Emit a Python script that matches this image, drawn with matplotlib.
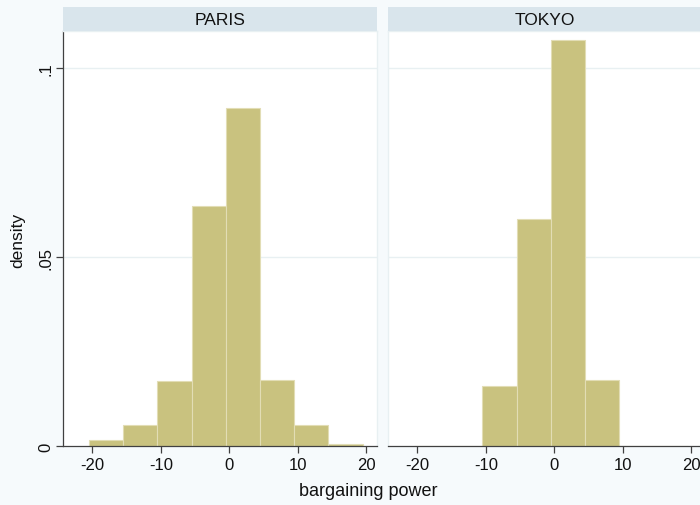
import matplotlib.pyplot as plt
import numpy as np

plt.rcParams['font.family'] = ['Liberation Sans', 'DejaVu Sans']

# histogram data (density), bins of width 5
bin_edges = [-20.5, -15.5, -10.5, -5.5, -0.5, 4.5, 9.5, 14.5, 19.5]
paris_density = [0.0016, 0.0056, 0.0173, 0.0634, 0.0893, 0.0175, 0.0056, 0.0006]
tokyo_density = [0.0, 0.0, 0.0158, 0.0600, 0.1074, 0.0175, 0.0, 0.0]
panels = ['PARIS', 'TOKYO']
xticks = [-20, -10, 0, 10, 20]
yticks = [0, 0.05, 0.1]
ytick_labels = ['0', '.05', '.1']

BG = '#F6FAFC'
STRIP = '#D9E5EC'
BAR = '#C9C27F'
BAR_EDGE = '#E2DDB5'
GRID = '#E8F0F2'
AXIS = '#404040'

W, H = 700, 506
fig = plt.figure(figsize=(W / 100, H / 100), dpi=100, facecolor=BG)

def box(x0, y0, x1, y1):
    # pixel box (top-left origin) -> figure fraction rect
    return [x0 / W, 1 - y1 / H, (x1 - x0) / W, (y1 - y0) / H]

xlim = (-24.3, 21.6)
ylim = (0, 0.1098)
lefts = [63, 388]
width = 314

for i, (name, dens) in enumerate(zip(panels, [paris_density, tokyo_density])):
    x0 = lefts[i]
    ax = fig.add_axes(box(x0, 32, x0 + width, 447))
    ax.set_facecolor('white')
    ax.set_xlim(*xlim)
    ax.set_ylim(*ylim)
    for y in yticks[1:]:
        ax.axhline(y, color=GRID, lw=1, zorder=0)
    ax.bar(bin_edges[:-1], dens, width=np.diff(bin_edges), align='edge',
           color=BAR, edgecolor=BAR_EDGE, linewidth=0.8, zorder=2)
    for s in ['top', 'right', 'left']:
        ax.spines[s].set_color(GRID)
        ax.spines[s].set_linewidth(1)
    ax.spines['bottom'].set_color(AXIS)
    ax.spines['bottom'].set_linewidth(0.9)
    ax.set_xticks(xticks)
    ax.set_xticklabels([str(t) for t in xticks])
    ax.tick_params(axis='x', length=5, width=0.9, color=AXIS, labelsize=12,
                   labelcolor='#111111', pad=3)
    if i == 0:
        ax.spines['left'].set_color(AXIS)
        ax.spines['left'].set_linewidth(0.9)
        ax.set_yticks(yticks)
        ax.set_yticklabels(ytick_labels, rotation=90, va='center')
        ax.tick_params(axis='y', length=5, width=0.9, color=AXIS, labelsize=12,
                       labelcolor='#111111', pad=2)
    else:
        ax.set_yticks([])

    sx = fig.add_axes(box(x0, 8, x0 + width, 32))
    sx.set_facecolor(STRIP)
    sx.set_xticks([])
    sx.set_yticks([])
    for s in sx.spines.values():
        s.set_visible(False)
    sx.text(0.5, 0.48, name, ha='center', va='center', fontsize=12.5,
            color='#111111', transform=sx.transAxes)

fig.text(18 / W, 1 - 240 / H, 'density', rotation=90, ha='center', va='center',
         fontsize=12.5, color='#111111')
fig.text(368 / W, 1 - 492 / H, 'bargaining power', ha='center', va='center',
         fontsize=13, color='#111111')

fig.savefig('out.png', dpi=100, facecolor=BG)
